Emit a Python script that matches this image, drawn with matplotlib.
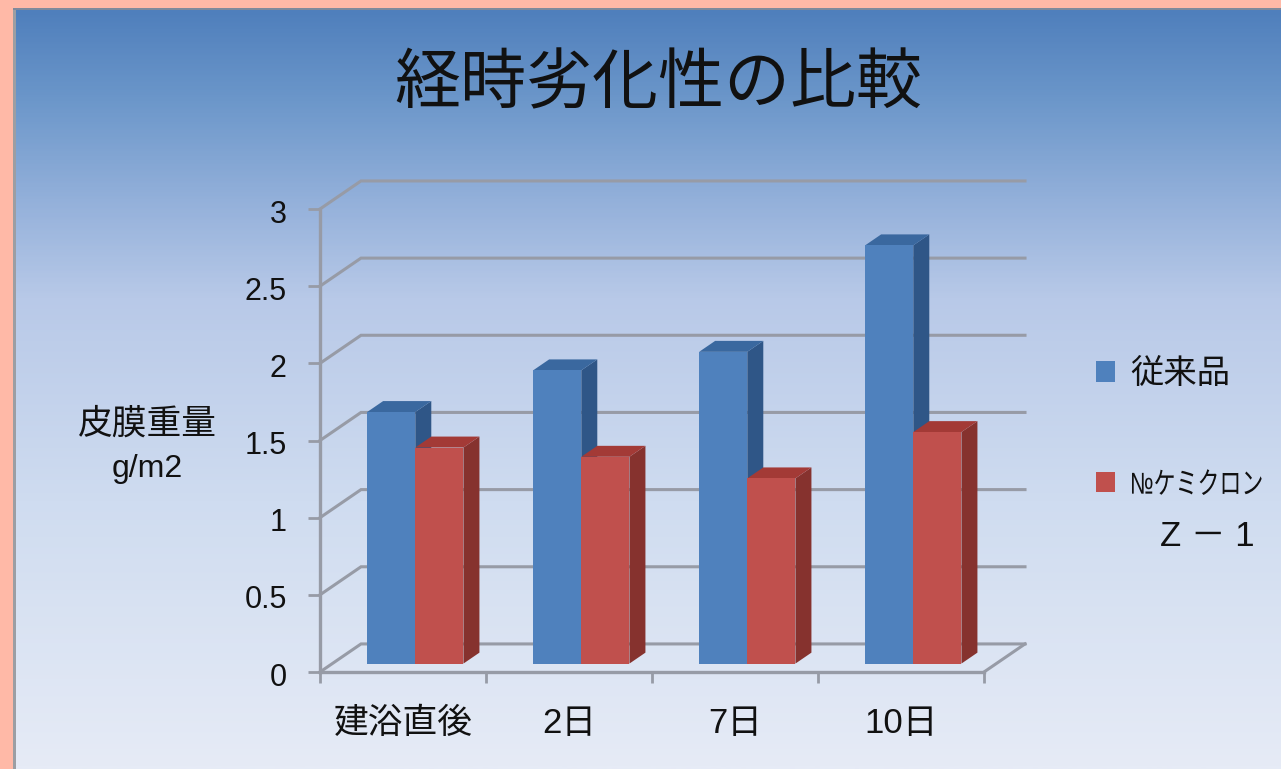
import numpy as np
import matplotlib
matplotlib.use('Agg')
import matplotlib.pyplot as plt
from matplotlib.colors import LinearSegmentedColormap
from matplotlib.patches import Patch
from matplotlib.patheffects import AbstractPathEffect
from matplotlib.transforms import Affine2D, ScaledTranslation

plt.rcParams['font.family'] = ['Liberation Sans', 'Noto Sans CJK JP', 'DejaVu Sans']

categories = ['建浴直後', '2日', '7日', '10日']
conventional = [1.63, 1.90, 2.02, 2.71]
chemicron = [1.40, 1.34, 1.20, 1.50]
y_ticks = [0, 0.5, 1, 1.5, 2, 2.5, 3]
y_tick_labels = ['0', '0.5', '1', '1.5', '2', '2.5', '3']
series_names = ['従来品', '№ケミクロン']

W, H = 1281, 769

# size of the 3d depth in data units (40px right, 28px up at full depth)
DEPTH_X = 41 / 166
DEPTH_Y = 28 / 154
GRID_COLOUR = '#979ba6'
INK = '#111111'


class Narrow(AbstractPathEffect):
  # squeezes text sideways and stretches it up, the legend font in the picture is condensed
  def __init__(self, x0, y0, fx, fy):
    super().__init__()
    self.x0 = x0
    self.y0 = y0
    self.fx = fx
    self.fy = fy

  def draw_path(self, renderer, gc, tpath, affine, rgbFace=None):
    squeeze = Affine2D().translate(-self.x0, -self.y0).scale(self.fx, self.fy).translate(self.x0, self.y0)
    renderer.draw_path(gc, tpath, affine + squeeze, rgbFace)


def px_box(left, top, right, bottom):
  return [left / W, 1 - bottom / H, (right - left) / W, (bottom - top) / H]


def at_depth(x, y, d):
  return x + d * DEPTH_X, y + d * DEPTH_Y


def draw_box(ax, x0, x1, value, d0, d1, front, top, side, z):
  fx0, fy0 = at_depth(x0, 0, d0)
  fx1, fy1 = at_depth(x1, value, d0)
  bx0, by0 = at_depth(x0, 0, d1)
  bx1, by1 = at_depth(x1, value, d1)
  ax.fill([fx1, bx1, bx1, fx1], [fy0, by0, by1, fy1], color=side, lw=0, clip_on=False, zorder=z)
  ax.fill([fx0, bx0, bx1, fx1], [fy1, by1, by1, fy1], color=top, lw=0, clip_on=False, zorder=z)
  ax.fill([fx0, fx1, fx1, fx0], [fy0, fy0, fy1, fy1], color=front, lw=0, clip_on=False, zorder=z + 0.1)


fig = plt.figure(figsize=(W / 100, H / 100), dpi=100, facecolor='#ffb9a7')

#slide background
bg = fig.add_axes(px_box(13, 8, W, H))
stops = [(0, '#4f7fbc'), (0.12, '#6c97ca'), (0.25, '#93b0da'), (0.38, '#b8c9e8'), (0.65, '#cfdcf0'), (1, '#e6ebf6')]
grad = LinearSegmentedColormap.from_list('slide', stops)
bg.imshow(np.linspace(0, 1, 400).reshape(-1, 1), aspect='auto', cmap=grad, vmin=0, vmax=1)
bg.axis('off')

#grey edge on the top and left of the slide
fig.patches.append(plt.Rectangle((13 / W, 0), 3 / W, 1 - 8 / H, transform=fig.transFigure, color='#9c9ea3', lw=0))
fig.patches.append(plt.Rectangle((13 / W, 1 - 10 / H), 1 - 13 / W, 2 / H, transform=fig.transFigure, color='#7f8a9c', lw=0))

ax = fig.add_axes(px_box(320, 209, 984, 672))
ax.patch.set_visible(False)
ax.set_xlim(0, 4)
ax.set_ylim(0, 3)

#back wall grid lines, drawn from the front edge up to the wall and across
for v in y_ticks:
  x1, y1 = at_depth(0, v, 1)
  x2, y2 = at_depth(4, v, 1)
  ax.plot([0, x1, x2], [v, y1, y2], color=GRID_COLOUR, lw=2.2, clip_on=False, zorder=1, solid_joinstyle='miter')

#floor edge on the right
x1, y1 = at_depth(4, 0, 1)
ax.plot([4, x1], [0, y1], color=GRID_COLOUR, lw=2.2, clip_on=False, zorder=1)

bar_w = 0.29
for i in range(len(categories)):
  c = i + 0.5
  draw_box(ax, c - bar_w, c, conventional[i], 0.3, 0.69, '#4f81bd', '#3a689f', '#2f5687', 3 + i)
  draw_box(ax, c, c + bar_w, chemicron[i], 0.3, 0.69, '#c0504d', '#a33a36', '#86322e', 3.5 + i)

for s in ['top', 'right']:
  ax.spines[s].set_visible(False)
for s in ['left', 'bottom']:
  ax.spines[s].set_color(GRID_COLOUR)
  ax.spines[s].set_linewidth(2.4)

ax.set_yticks(y_ticks)
ax.set_yticklabels(y_tick_labels, fontsize=22, color=INK)
ax.tick_params(axis='y', length=9, width=2, color=GRID_COLOUR, pad=15)
#the numbers sit a little under their ticks in the picture
nudge = ScaledTranslation(0, -2 / 100, fig.dpi_scale_trans)
for lab in ax.get_yticklabels():
  lab.set_transform(lab.get_transform() + nudge)

ax.set_xticks(range(5))
ax.set_xticklabels([])
ax.set_xticks([i + 0.5 for i in range(4)], minor=True)
ax.set_xticklabels(categories, minor=True, fontsize=25, color=INK)
ax.tick_params(axis='x', which='major', length=8, width=2, color=GRID_COLOUR)
ax.tick_params(axis='x', which='minor', length=0, pad=25)

#title and y axis caption
fig.text(658 / W, 1 - 86 / H, '経時劣化性の比較', ha='center', va='center', fontsize=47.5, color=INK)
fig.text(147 / W, 1 - 424 / H, '皮膜重量', ha='center', va='center', fontsize=25, color=INK)
fig.text(147 / W, 1 - 469 / H, 'g/m2', ha='center', va='center', fontsize=23, color=INK)

handles = [Patch(color='#4f81bd', lw=0), Patch(color='#c0504d', lw=0)]
leg = fig.legend(handles, series_names, loc='upper left', bbox_to_anchor=(1096 / W, 1 - 359 / H),
                 frameon=False, fontsize=24, handlelength=0.57, handleheight=0.57,
                 handletextpad=0.45, labelspacing=2.45, borderpad=0, borderaxespad=0,
                 labelcolor=INK)
second = leg.get_texts()[1]
second.set_fontsize(17)
second.set_path_effects([Narrow(1130, H - 494, 0.93, 1.28)])
fig.text(1207 / W, 1 - 536 / H, 'Z － 1', ha='center', va='center', fontsize=25, color=INK)

fig.savefig('out.png', dpi=100)
